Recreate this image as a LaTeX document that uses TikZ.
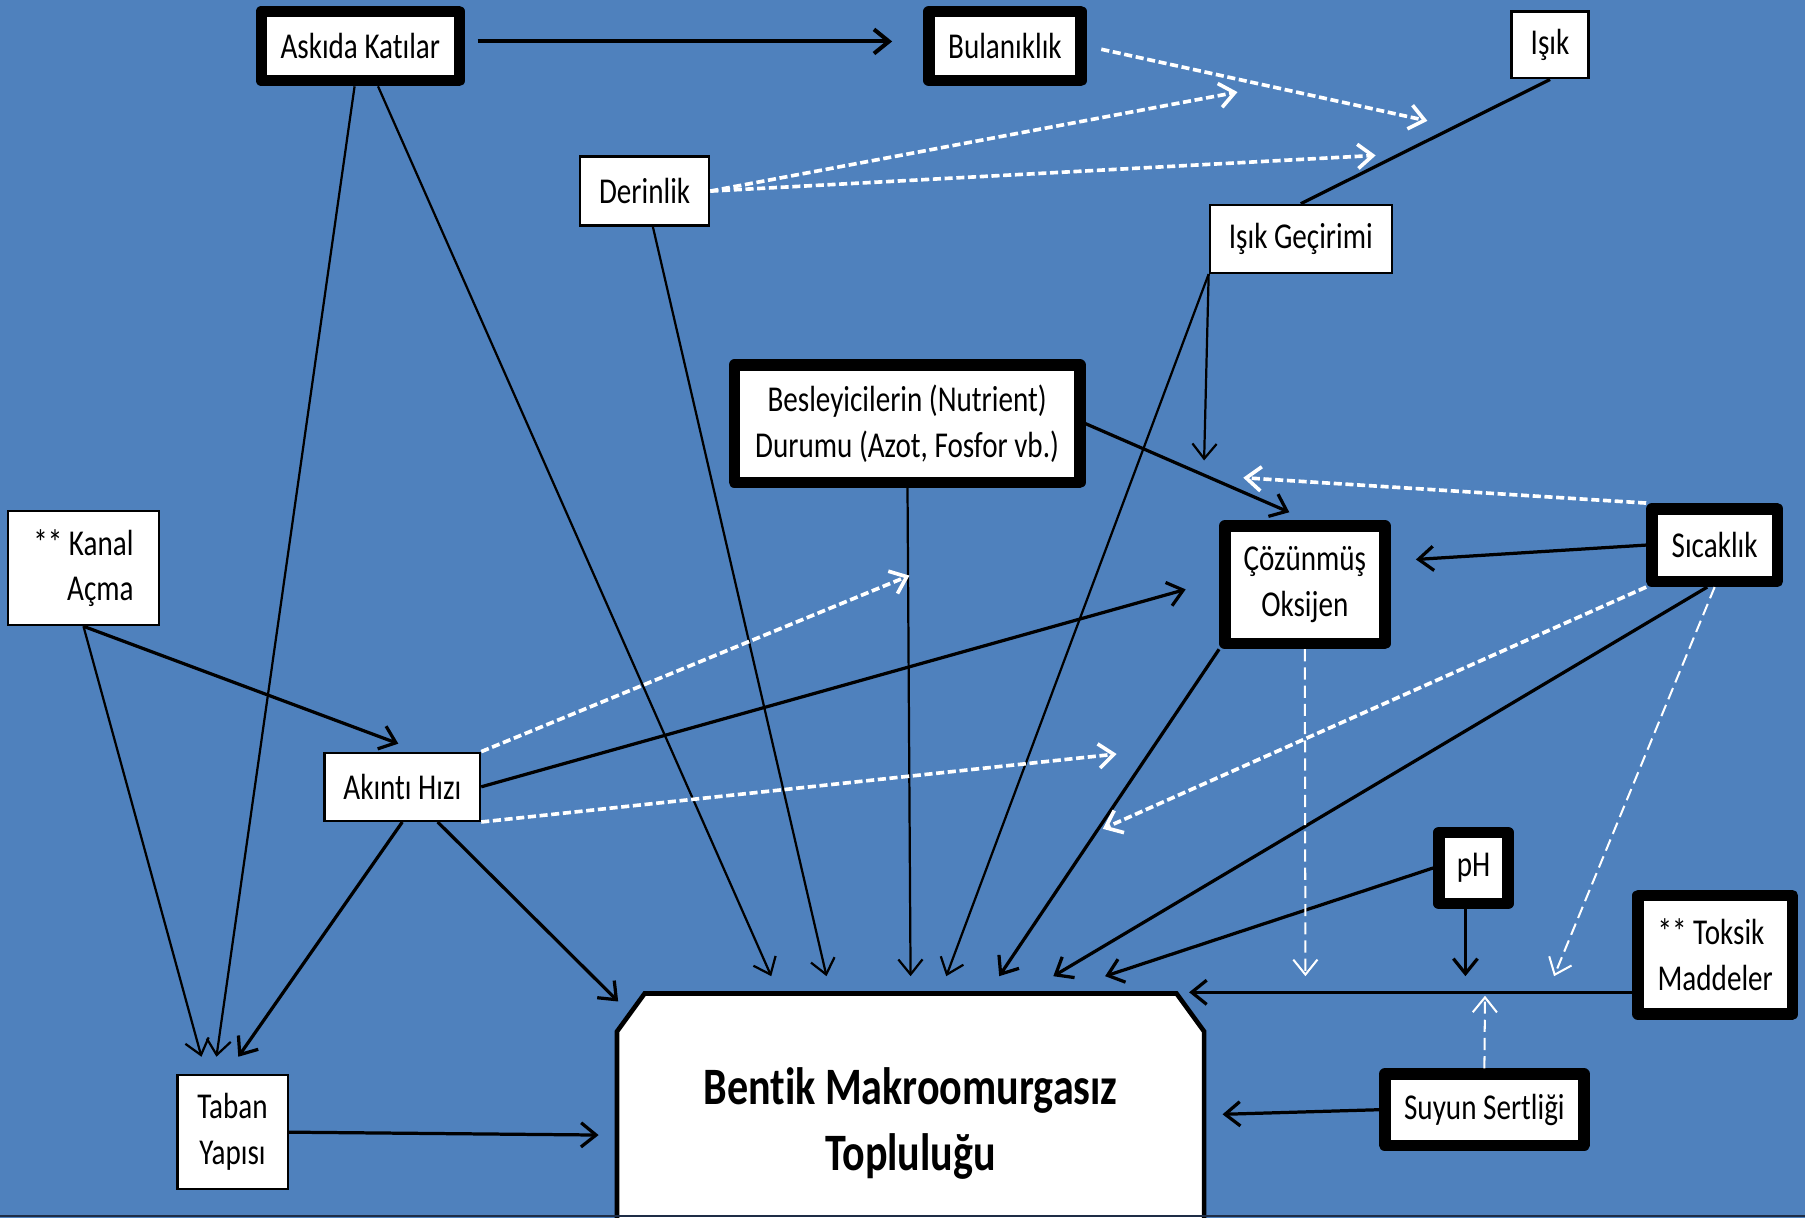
\documentclass[tikz,border=0pt]{standalone}
\usepackage{fontspec}
\setmainfont{Carlito}[FakeStretch=0.8, Ligatures=NoCommon]
\usepackage{tikz}
\usetikzlibrary{arrows.meta}
\definecolor{bgblue}{RGB}{79,129,189}
\definecolor{edgenavy}{RGB}{30,45,70}
\newcommand{\lbl}{\fontsize{18}{22.7}\selectfont}
\newcommand{\bigtxt}{\fontsize{26}{32.5}\selectfont\bfseries}
\tikzstyle{factor}=[draw, fill=white, inner sep=0pt, align=center, font=\lbl]
\tikzstyle{tfactor}=[factor, line width=1.2pt]
\tikzstyle{kfactor}=[factor, line width=0.2cm, line join=round]
\tikzstyle{arr}=[line width=1.6pt, -{Straight Barb[length=0.26cm, width=0.42cm]}]
\tikzstyle{tarr}=[arr, line width=1.1pt]
\tikzstyle{wdash}=[arr, white, line width=1.8pt, dash pattern=on 4pt off 1.8pt]
\tikzstyle{wdashthin}=[wdash, line width=1pt, dash pattern=on 6pt off 3pt]

\begin{document}
\begin{tikzpicture}[x=0.02cm, y=-0.02cm]
        \useasboundingbox (0, 0) rectangle (1568, 1058);
        \fill[bgblue] (0, 0) rectangle (1568, 1058);

        \node[kfactor, minimum width=3.44cm, minimum height=1.20cm]  (ask) at (313, 40)    {Askıda Katılar};
        \node[kfactor, minimum width=2.64cm, minimum height=1.20cm]  (bul) at (873, 40)    {Bulanıklık};
        \node[tfactor, minimum width=1.34cm, minimum height=1.16cm]  (isik) at (1346.5, 39) {Işık};
        \node[tfactor, minimum width=2.24cm, minimum height=1.20cm]  (der) at (560, 166)   {Derinlik};
        \node[tfactor, minimum width=3.16cm, minimum height=1.18cm]  (gec) at (1130, 207.5) {Işık Geçirimi};
        \node[kfactor, minimum width=6.00cm, minimum height=2.04cm]  (bes) at (788, 368)   {Besleyicilerin (Nutrient)\\Durumu (Azot, Fosfor vb.)};
        \node[tfactor, minimum width=2.62cm, minimum height=1.98cm, align=right] (kan) at (72.5, 493.5) {** Kanal\\Açma};
        \node[kfactor, minimum width=2.78cm, minimum height=2.04cm]  (coz) at (1133.5, 508) {Çözünmüş\\Oksijen};
        \node[kfactor, minimum width=2.18cm, minimum height=1.26cm]  (sic) at (1489.5, 473.5) {Sıcaklık};
        \node[tfactor, minimum width=2.70cm, minimum height=1.18cm]  (aki) at (349.5, 683.5) {Akıntı Hızı};
        \node[kfactor, minimum width=1.20cm, minimum height=1.24cm]  (ph) at (1280, 754)   {pH};
        \node[kfactor, minimum width=2.68cm, minimum height=2.06cm, align=left] (tok) at (1490, 829.5) {** Toksik\\Maddeler};
        \node[tfactor, minimum width=1.92cm, minimum height=1.98cm]  (tab) at (202, 983.5)  {Taban\\Yapısı};
        \node[kfactor, minimum width=3.46cm, minimum height=1.24cm]  (suy) at (1289.5, 964) {Suyun Sertliği};

        \draw[line width=0.08cm, fill=white] (536, 1062) -- (536, 896) -- (560, 863) -- (1022, 863) -- (1046, 896) -- (1046, 1062);
        \node[font=\bigtxt, align=center] (ben) at (791, 976) {Bentik Makroomurgasız\\Topluluğu};

        \coordinate (tBul)   at (775, 36);
        \coordinate (tAki)   at (346, 646);
        \coordinate (tTab1)  at (188, 918);
        \coordinate (tTab2)  at (175, 918);
        \coordinate (tTab3)  at (207, 918);
        \coordinate (tCoz1)  at (1120, 445);
        \coordinate (tCoz2)  at (1046, 400);
        \coordinate (tCoz3)  at (1030, 512);
        \coordinate (tCoz4)  at (1230, 486);
        \coordinate (tPh)    at (1273, 848);
        \coordinate (tBen1)  at (670, 848);
        \coordinate (tBen2)  at (718, 848);
        \coordinate (tBen3)  at (791, 848);
        \coordinate (tBen4)  at (822, 848);
        \coordinate (tBen5)  at (537, 870);
        \coordinate (tBen6)  at (520, 986);
        \coordinate (tBen7)  at (868, 848);
        \coordinate (tBen8)  at (915, 848);
        \coordinate (tBen9)  at (960, 848);
        \coordinate (tBen10) at (1033, 862);
        \coordinate (tBen11) at (1062, 968);
        \coordinate (tW1)    at (1240, 105);
        \coordinate (tW2)    at (1075, 80);
        \coordinate (tW3)    at (1195, 135);
        \coordinate (tW4)    at (1080, 415);
        \coordinate (tW5)    at (790, 500);
        \coordinate (tW6)    at (970, 655);
        \coordinate (tW7)    at (958, 720);
        \coordinate (tW8)    at (1350, 848);
        \coordinate (tW9)    at (1134, 848);
        \coordinate (tW10)   at (1290, 865);

        \draw[arr, line width=2pt, shorten <=0.22cm] (ask.east |- tBul) -- (tBul);
        \draw[tarr] (ask) -- (tTab1);
        \draw[tarr] (ask) -- (tBen1);
        \draw[tarr] (der) -- (tBen2);
        \draw[tarr] (bes) -- (tBen3);
        \draw[arr] (bes.east) -- (tCoz1);
        \draw[line width=1.6pt] (isik.south) -- (gec.north);
        \draw[tarr] (gec.south west) -- (tBen4);
        \draw[tarr] (gec.south west) -- (tCoz2);
        \draw[arr] (kan.south) -- (tAki);
        \draw[tarr] (kan.south) -- (tTab2);
        \draw[arr] (aki.east) -- (tCoz3);
        \draw[arr] (aki.south) -- (tTab3);
        \draw[arr] (aki) -- (tBen5);
        \draw[arr] (tab.east) -- (tBen6);
        \draw[arr] (coz.south west) -- (tBen7);
        \draw[arr] (sic.west) -- (tCoz4);
        \draw[arr] (sic.-100) -- (tBen8);
        \draw[arr] (ph.west) -- (tBen9);
        \draw[arr] (ph.south -| tPh) -- (tPh);
        \draw[arr] (tok.west |- tBen10) -- (tBen10);
        \draw[arr] (suy.west) -- (tBen11);

        \draw[wdash, shorten <=0.26cm] (bul.east) -- (tW1);
        \draw[wdash] (der.east) -- (tW2);
        \draw[wdash] (der.east) -- (tW3);
        \draw[wdash] (sic.north west) -- (tW4);
        \draw[wdash] (aki.north east) -- (tW5);
        \draw[wdash] (aki.south east) -- (tW6);
        \draw[wdash] (sic.south west) -- (tW7);
        \draw[wdashthin] (sic.south) -- (tW8);
        \draw[wdashthin] (coz.south) -- (tW9);
        \draw[wdashthin] (suy.north) -- (tW10);

        \draw[edgenavy, line width=1pt] (0, 1056) -- (1568, 1056);
    \end{tikzpicture}
\end{document}
